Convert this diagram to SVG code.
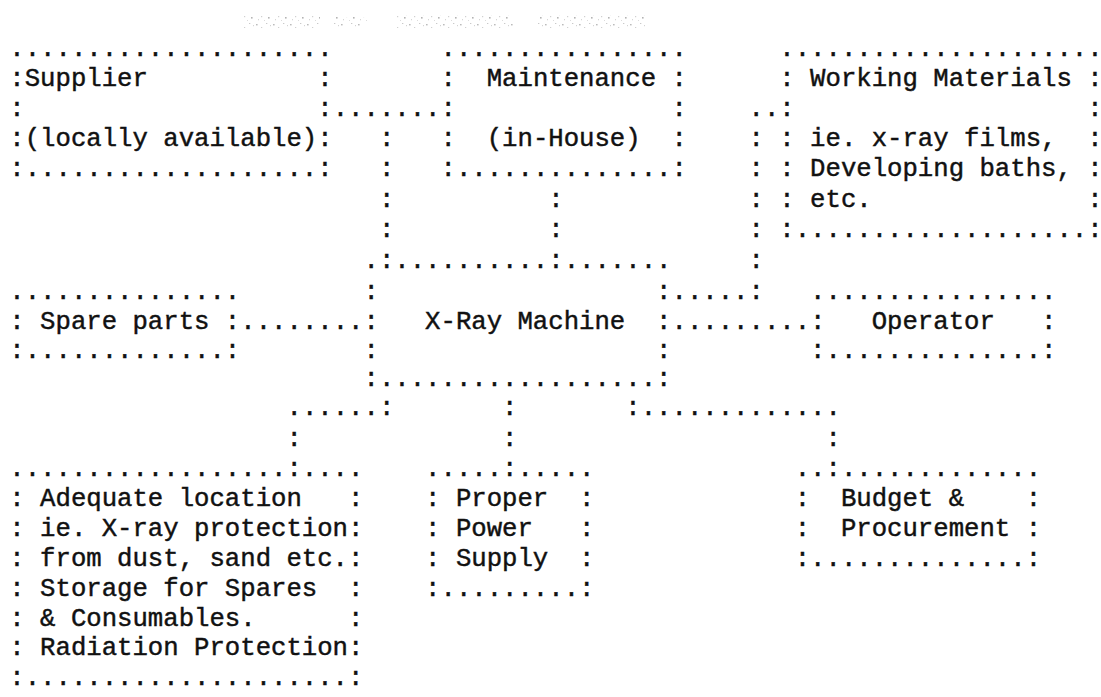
<svg xmlns="http://www.w3.org/2000/svg" width="1101" height="697" viewBox="0 0 1101 697">
  <style>
    .t { font-family: "Liberation Mono", "DejaVu Sans Mono", monospace; font-size: 25.67px; fill: #111; stroke: #111; stroke-width: 0.45px; white-space: pre; }
  </style>
  <defs>
    <!-- irregular grey specks for the faded heading line -->
    <pattern id="ghost" width="17" height="11" patternUnits="userSpaceOnUse">
      <rect x="1" y="2" width="1.6" height="1.4" fill="#b0b0b0"/>
      <rect x="6" y="5" width="1.2" height="1.2" fill="#c8c8c8"/>
      <rect x="3" y="8" width="1" height="1.3" fill="#d0d0d0"/>
      <rect x="11" y="1" width="1.3" height="1" fill="#c0c0c0"/>
      <rect x="13" y="6" width="1.6" height="1.6" fill="#a8a8a8"/>
      <rect x="9" y="9" width="1" height="1" fill="#d6d6d6"/>
      <rect x="15" y="3" width="1" height="1.2" fill="#cccccc"/>
    </pattern>
  </defs>
  <rect width="1101" height="697" fill="#fff"/>

  <!-- faded heading -->
  <g id="heading" opacity="0.85">
    <rect x="243" y="16" width="77" height="12" fill="url(#ghost)"/>
    <rect x="333" y="17" width="35" height="10" fill="url(#ghost)"/>
    <rect x="395" y="15" width="118" height="13" fill="url(#ghost)"/>
    <rect x="537" y="15" width="110" height="13" fill="url(#ghost)"/>
  </g>

  <!-- connectors: dotted runs between the boxes -->
  <g id="connectors">
    <text class="t">
      <tspan x="332.7" y="116">.......</tspan>
      <tspan x="378.9" y="146">:</tspan>
      <tspan x="378.9" y="176">:</tspan>
      <tspan x="378.9" y="207">:</tspan>
      <tspan x="378.9" y="237">:</tspan>
      <tspan x="548.3" y="207">:</tspan>
      <tspan x="548.3" y="237">:</tspan>
      <tspan x="748.5" y="116">..</tspan>
      <tspan x="748.5" y="146">:</tspan>
      <tspan x="748.5" y="176">:</tspan>
      <tspan x="748.5" y="207">:</tspan>
      <tspan x="748.5" y="237">:</tspan>
      <tspan x="748.5" y="268">:</tspan>
      <tspan x="671.5" y="299">.....:</tspan>
      <tspan x="240.3" y="329">........</tspan>
      <tspan x="671.5" y="329">.........</tspan>
      <tspan x="286.5" y="415">......:</tspan>
      <tspan x="502.1" y="415">:</tspan>
      <tspan x="625.3" y="415">:.............</tspan>
      <tspan x="286.5" y="446">:</tspan>
      <tspan x="502.1" y="446">:</tspan>
      <tspan x="825.5" y="446">:</tspan>
    </text>
  </g>

  <g id="supplier">
    <text class="t">
      <tspan x="9.3" y="56">.....................</tspan>
      <tspan x="9.3" y="86">:Supplier           :</tspan>
      <tspan x="9.3" y="116">:                   :</tspan>
      <tspan x="9.3" y="146">:(locally available):</tspan>
      <tspan x="9.3" y="176">:...................:</tspan>
    </text>
  </g>

  <g id="maintenance">
    <text class="t">
      <tspan x="440.5" y="56">................</tspan>
      <tspan x="440.5" y="86">:  Maintenance :</tspan>
      <tspan x="440.5" y="116">:              :</tspan>
      <tspan x="440.5" y="146">:  (in-House)  :</tspan>
      <tspan x="440.5" y="176">:..............:</tspan>
    </text>
  </g>

  <g id="working-materials">
    <text class="t">
      <tspan x="779.3" y="56">.....................</tspan>
      <tspan x="779.3" y="86">: Working Materials :</tspan>
      <tspan x="779.3" y="116">:                   :</tspan>
      <tspan x="779.3" y="146">: ie. x-ray films,  :</tspan>
      <tspan x="779.3" y="176">: Developing baths, :</tspan>
      <tspan x="779.3" y="207">: etc.              :</tspan>
      <tspan x="779.3" y="237">:...................:</tspan>
    </text>
  </g>

  <g id="spare-parts">
    <text class="t">
      <tspan x="9.3" y="299">...............</tspan>
      <tspan x="9.3" y="329">: Spare parts :</tspan>
      <tspan x="9.3" y="358">:.............:</tspan>
    </text>
  </g>

  <g id="xray-machine">
    <text class="t">
      <tspan x="363.5" y="268">.:..........:.......</tspan>
      <tspan x="363.5" y="299">:                  :</tspan>
      <tspan x="363.5" y="329">:   X-Ray Machine  :</tspan>
      <tspan x="363.5" y="358">:                  :</tspan>
      <tspan x="363.5" y="386">:..................:</tspan>
    </text>
  </g>

  <g id="operator">
    <text class="t">
      <tspan x="810.1" y="299">................</tspan>
      <tspan x="810.1" y="329">:   Operator   :</tspan>
      <tspan x="810.1" y="358">:..............:</tspan>
    </text>
  </g>

  <g id="location">
    <text class="t">
      <tspan x="9.3" y="476">..................:....</tspan>
      <tspan x="9.3" y="506">: Adequate location   :</tspan>
      <tspan x="9.3" y="536">: ie. X-ray protection:</tspan>
      <tspan x="9.3" y="566">: from dust, sand etc.:</tspan>
      <tspan x="9.3" y="596">: Storage for Spares  :</tspan>
      <tspan x="9.3" y="626">: &amp; Consumables.      :</tspan>
      <tspan x="9.3" y="655">: Radiation Protection:</tspan>
      <tspan x="9.3" y="685">:.....................:</tspan>
    </text>
  </g>

  <g id="power-supply">
    <text class="t">
      <tspan x="425.1" y="476">.....:.....</tspan>
      <tspan x="425.1" y="506">: Proper  :</tspan>
      <tspan x="425.1" y="536">: Power   :</tspan>
      <tspan x="425.1" y="566">: Supply  :</tspan>
      <tspan x="425.1" y="596">:.........:</tspan>
    </text>
  </g>

  <g id="budget">
    <text class="t">
      <tspan x="794.7" y="476">..:.............</tspan>
      <tspan x="794.7" y="506">:  Budget &amp;    :</tspan>
      <tspan x="794.7" y="536">:  Procurement :</tspan>
      <tspan x="794.7" y="566">:..............:</tspan>
    </text>
  </g>
</svg>
